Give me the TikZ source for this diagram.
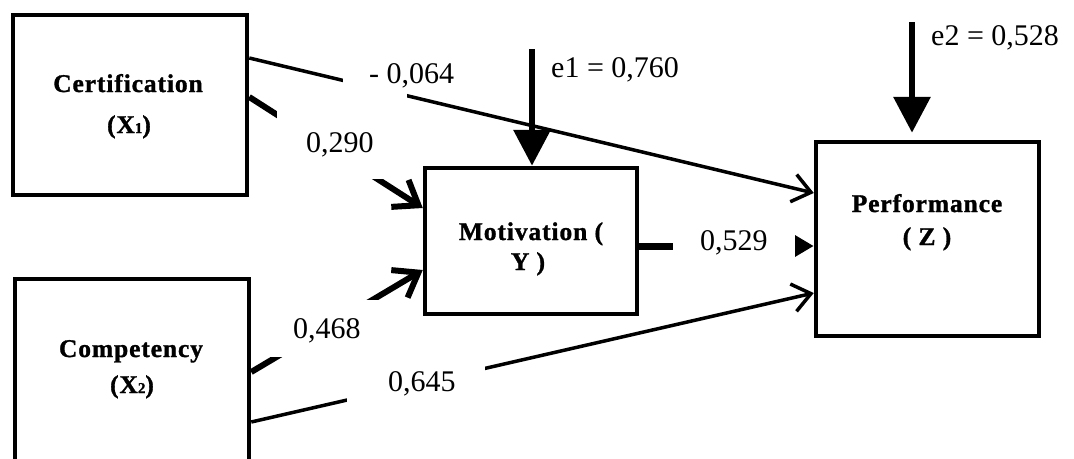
\documentclass[tikz,border=0pt]{standalone}
\usepackage{fontspec}
\setmainfont{Liberation Serif}
\newfontfamily\boxfont[LetterSpace=3.5,BoldFeatures={FakeBold=1.2}]{Liberation Serif}
\usetikzlibrary{arrows.meta,calc}
\begin{document}
\begin{tikzpicture}[x=1pt,y=-1pt,
  box/.style={draw, line width=4.5pt, rectangle, inner sep=0pt},
  boxtext/.style={font=\boxfont\bfseries\fontsize{25.5}{28}\selectfont, inner sep=0pt, anchor=base},
  lbl/.style={font=\fontsize{30}{36}\selectfont, inner sep=0pt, anchor=base west},
  patch/.style={fill=white, draw=none},
  thinarr/.style={line width=3.5pt, -{Straight Barb[length=18pt,width=28pt]}},
  thickarr/.style={line width=6pt, -{Straight Barb[length=22pt,width=32pt]}},
  triarr/.style={line width=6.5pt, -{Triangle[length=36pt,width=36pt]}},
]
\fill[white] (0,0) rectangle (1074,458);
\useasboundingbox (0,0) rectangle (1074,458);

% boxes
\node[box, minimum width=234pt, minimum height=180pt] (cert) at (130,105) {};
\node[box, minimum width=234pt, minimum height=200pt] (comp) at (132,379) {};
\node[box, minimum width=212pt, minimum height=146pt] (mot) at (531,241) {};
\node[box, minimum width=223pt, minimum height=194pt] (perf) at (927.5,239) {};

% box texts
\node[boxtext] (certA) at (128,92) {Certification};
\node[boxtext] (certB) at (129,133) {(X{\fontsize{15}{15}\selectfont 1})};
\node[boxtext] (compA) at (131,357) {Competency};
\node[boxtext] (compB) at (132,393) {(X{\fontsize{15}{15}\selectfont 2})};
\node[boxtext] (motA) at (531,240) {Motivation (};
\node[boxtext] (motB) at (528,270) {Y )};
\node[boxtext] (perfA) at (927,212) {Performance};
\node[boxtext] (perfB) at (927,245) {( Z )};

% connectors
\draw[thinarr] ($(cert.east)+(0,-47)$) -- ($(perf.west)+(0,-46)$);
\draw[thickarr] ($(cert.east)+(0,-8)$) -- ($(mot.west)+(0,-33)$);
\draw[thickarr] ($(comp.east)+(0,-7)$) -- ($(mot.west)+(0,29)$);
\draw[thinarr] ($(comp.east)+(0,43)$) -- ($(perf.west)+(0,54)$);
\draw[line width=7pt, -{Triangle[length=34pt,width=38pt]}] ($(mot.east)+(0,5)$) -- ($(perf.west)+(0,7)$);

\coordinate (e1s) at (532,49);
\coordinate (e2s) at (912,22);
\draw[triarr] (e1s) -- (e1s |- mot.north);
\draw[triarr] (e2s) -- ($(e2s |- perf.north)+(0,-7)$);

% label boxes covering the connectors
\fill[patch] (343,58) rectangle (407,103);
\fill[patch] (277,100) rectangle (395,179);
\fill[patch] (256,300) rectangle (405,357);
\fill[patch] (347,360) rectangle (485,420);
\fill[patch] (673,215) rectangle (795,275);

% labels
\node[lbl] (l064) at (369,83) {- 0,064};
\node[lbl] (l290) at (306,152) {0,290};
\node[lbl] (l468) at (293,338) {0,468};
\node[lbl] (l645) at (388,391) {0,645};
\node[lbl] (l529) at (700,250) {0,529};
\node[lbl] (le1) at (551,77) {e1 = 0,760};
\node[lbl] (le2) at (931,45) {e2 = 0,528};
\end{tikzpicture}
\end{document}
